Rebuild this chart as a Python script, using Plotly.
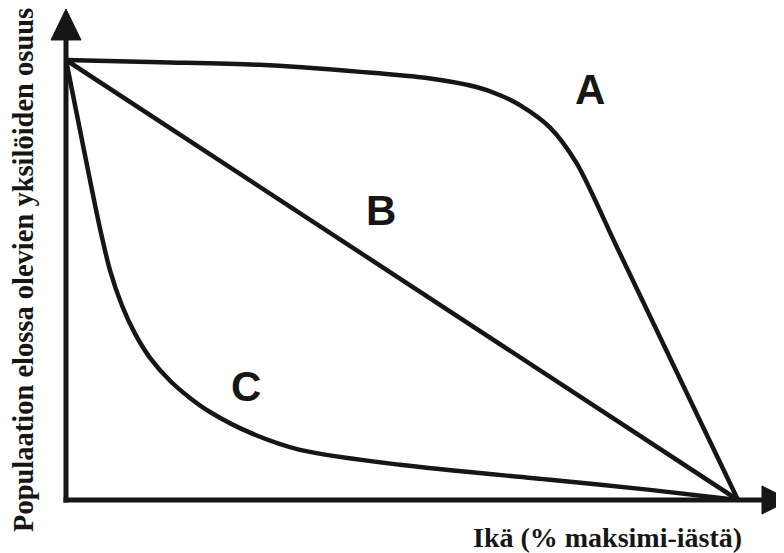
import plotly.graph_objects as go

# ---- data (x: age as % of max age, y: fraction surviving) ----
age_A = [0, 14.0, 28.9, 43.8, 53.7, 61.2, 64.6, 67.6, 72.0, 76.0, 82.0, 100]
surv_A = [1.0, 0.995, 0.989, 0.973, 0.959, 0.938, 0.920, 0.897, 0.847, 0.765, 0.574, 0.0]

age_B = [0, 100]
surv_B = [1.0, 0.0]

age_C = [0, 1.79, 3.57, 5.06, 6.55, 8.33, 10.27, 12.5, 15.48, 18.45, 21.43, 27.38, 34.82, 49.70, 72.02, 86.90, 100]
surv_C = [1.0, 0.863, 0.727, 0.617, 0.522, 0.442, 0.378, 0.323, 0.271, 0.232, 0.200, 0.153, 0.114, 0.080, 0.046, 0.023, 0.0]

curve_labels = ["A", "B", "C"]
label_x = [78.0, 46.9, 26.8]
label_y = [0.934, 0.657, 0.257]

x_title = "Ikä (% maksimi-iästä)"
y_title = "Populaation elossa olevien yksilöiden osuus"

# page has an 8px body margin; figure covers window pixels 8..784 x 8..553
OFF = 8
W, H = 784 - OFF, 553 - OFF
XR = [-8.631, 106.845]
YR = [-0.12045, 1.11818]
px_x = (XR[1] - XR[0]) / W   # data units per pixel (x)
px_y = (YR[1] - YR[0]) / H   # data units per pixel (y)

ink = "#161616"
fig = go.Figure()
for xs, ys in [(age_A, surv_A), (age_B, surv_B), (age_C, surv_C)]:
    fig.add_trace(go.Scatter(x=xs, y=ys, mode="lines",
                             line=dict(color=ink, width=4.5, shape="spline", smoothing=0.8),
                             hoverinfo="skip", showlegend=False))

# axes with arrowheads
y_top_line = 1.0455
fig.add_shape(type="line", x0=0, x1=0, y0=-2.5 * px_y, y1=y_top_line,
              line=dict(color=ink, width=5))
fig.add_shape(type="path",
              path=f"M {-15*px_x},{y_top_line} L {15*px_x},{y_top_line} L 0,{y_top_line + 31*px_y} Z",
              fillcolor=ink, line=dict(color=ink, width=1))
x_end_line = 103.57
fig.add_shape(type="line", x0=-2.5 * px_x, x1=x_end_line, y0=0, y1=0,
              line=dict(color=ink, width=5))
fig.add_shape(type="path",
              path=f"M {x_end_line},{-14*px_y} L {x_end_line},{14*px_y} L {x_end_line + 28*px_x},0 Z",
              fillcolor=ink, line=dict(color=ink, width=1))

for t, lx, ly in zip(curve_labels, label_x, label_y):
    fig.add_annotation(x=lx, y=ly, text=f"<b>{t}</b>", showarrow=False,
                       font=dict(family="Liberation Sans, Arial", size=42, color=ink),
                       xanchor="center", yanchor="middle")

fig.add_annotation(xref="paper", yref="paper", x=(607 - OFF) / W, y=1 - (537 - OFF) / H,
                   text=f"<b>{x_title}</b>", showarrow=False,
                   font=dict(family="Liberation Serif, Times New Roman", size=28, color=ink),
                   xanchor="center", yanchor="middle")
fig.add_annotation(xref="paper", yref="paper", x=(23 - OFF) / W, y=1 - (270 - OFF) / H,
                   text=f"<b>{y_title}</b>", showarrow=False, textangle=-90,
                   font=dict(family="Liberation Serif, Times New Roman", size=28.5, color=ink),
                   xanchor="center", yanchor="middle")

fig.update_layout(width=W, height=H, margin=dict(l=0, r=0, t=0, b=0),
                  paper_bgcolor="white", plot_bgcolor="white",
                  xaxis=dict(range=XR, visible=False, fixedrange=True),
                  yaxis=dict(range=YR, visible=False, fixedrange=True))
fig.write_html("out.html")
